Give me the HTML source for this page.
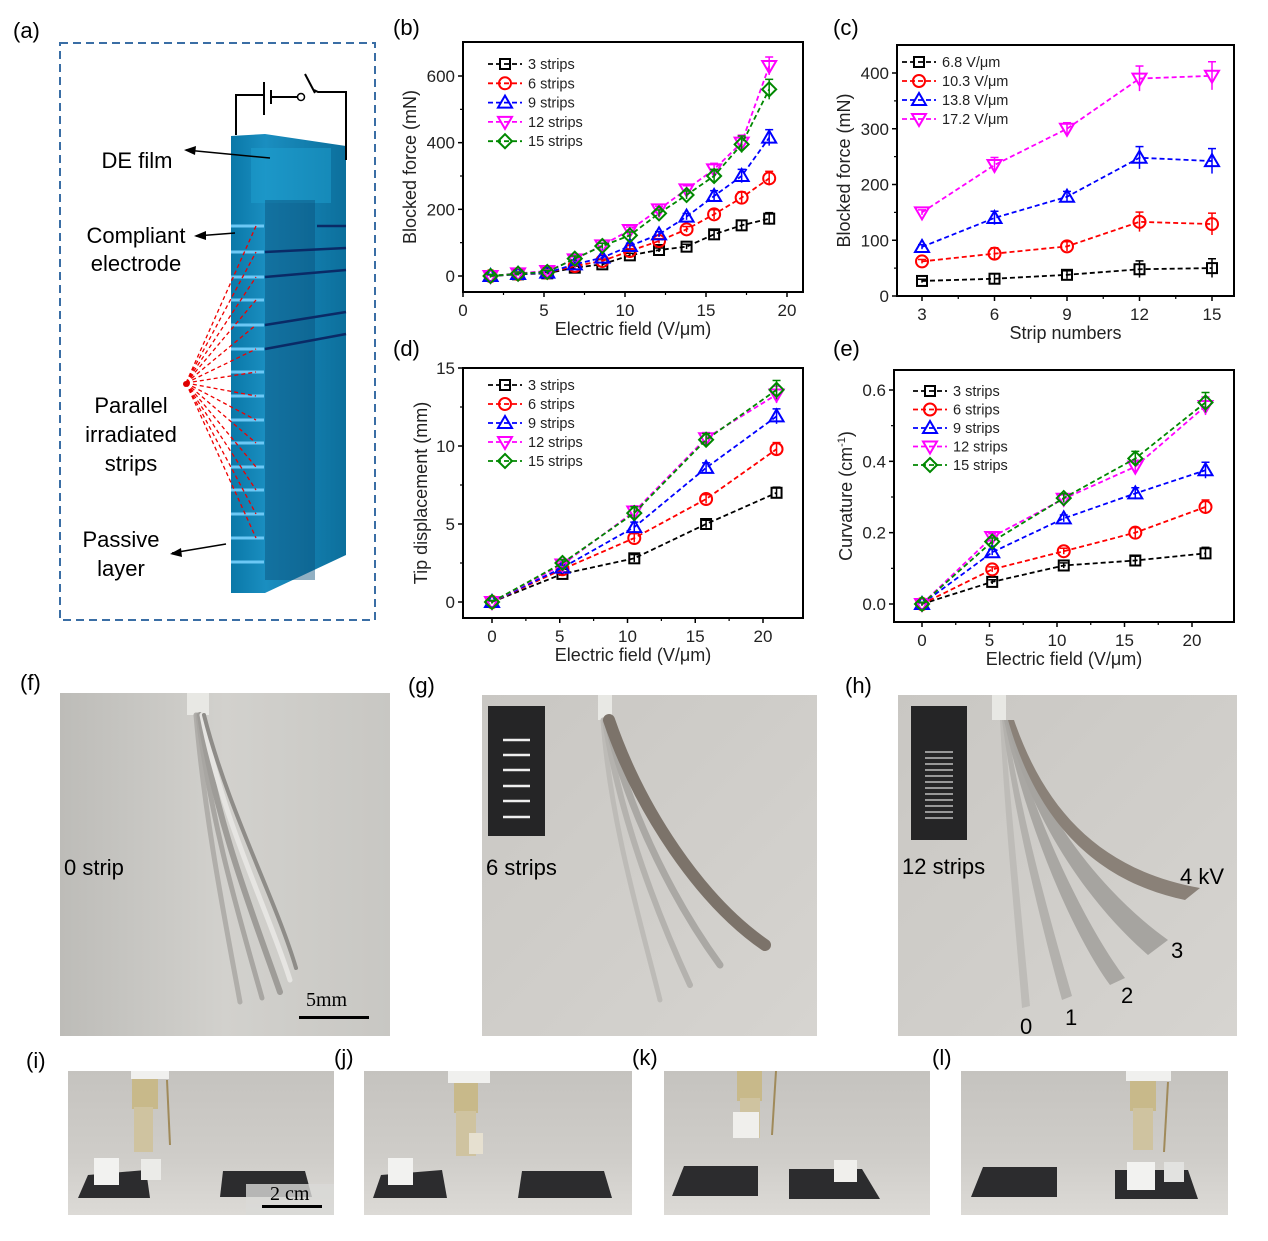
<!DOCTYPE html>
<html><head><meta charset="utf-8"><style>
html,body{margin:0;padding:0;background:#fff;}
svg{display:block;font-family:"Liberation Sans",Arial,sans-serif;}
</style></head><body>
<svg id="fig" width="1268" height="1241" viewBox="0 0 1268 1241" xmlns="http://www.w3.org/2000/svg">
<defs>
<linearGradient id="bg1" x1="0" y1="0" x2="1" y2="0"><stop offset="0" stop-color="#bdbcb8"/><stop offset="0.5" stop-color="#d2d1cd"/><stop offset="1" stop-color="#c8c7c3"/></linearGradient>
<linearGradient id="bg2" x1="0" y1="0" x2="1" y2="1"><stop offset="0" stop-color="#c9c7c3"/><stop offset="1" stop-color="#d6d4d0"/></linearGradient>
<linearGradient id="bgs" x1="0" y1="0" x2="0" y2="1"><stop offset="0" stop-color="#c5c3bf"/><stop offset="0.6" stop-color="#cfcdc9"/><stop offset="1" stop-color="#dcdad6"/></linearGradient>
<linearGradient id="blk" x1="0" y1="0" x2="1" y2="0"><stop offset="0" stop-color="#0a78a8"/><stop offset="0.3" stop-color="#1a8ec0"/><stop offset="1" stop-color="#0c6f9c"/></linearGradient>
</defs>

<g font-size="22" fill="#000">
<text x="13" y="38">(a)</text><text x="393" y="35">(b)</text><text x="833" y="35">(c)</text>
<text x="393" y="356">(d)</text><text x="833" y="356">(e)</text>
<text x="20" y="690">(f)</text><text x="408" y="693">(g)</text><text x="845" y="693">(h)</text>
<text x="26" y="1068">(i)</text><text x="334" y="1065">(j)</text><text x="632" y="1065">(k)</text><text x="932" y="1065">(l)</text>
</g>

<g>
<rect x="60" y="43" width="315" height="577" fill="none" stroke="#3a6ea5" stroke-width="2" stroke-dasharray="8,5"/>
<polygon points="231,136 265,134 346,146 346,555 265,593 231,593" fill="url(#blk)"/>
<rect x="251" y="148" width="80" height="55" fill="#1ea0d0" opacity="0.5"/>
<rect x="265" y="200" width="50" height="380" fill="#0b4f7a" opacity="0.45"/>
<g stroke="#6cc8f5" stroke-width="3">
<line x1="231" y1="226" x2="264" y2="226"/><line x1="231" y1="252" x2="264" y2="252"/><line x1="231" y1="277" x2="264" y2="277"/><line x1="231" y1="300" x2="264" y2="300"/><line x1="231" y1="325" x2="264" y2="325"/><line x1="231" y1="349" x2="264" y2="349"/><line x1="231" y1="372" x2="264" y2="372"/><line x1="231" y1="396" x2="264" y2="396"/><line x1="231" y1="420" x2="264" y2="420"/><line x1="231" y1="443" x2="264" y2="443"/><line x1="231" y1="467" x2="264" y2="467"/><line x1="231" y1="490" x2="264" y2="490"/><line x1="231" y1="514" x2="264" y2="514"/><line x1="231" y1="538" x2="264" y2="538"/><line x1="231" y1="562" x2="264" y2="562"/></g>
<g stroke="#0a2a66" stroke-width="2.5"><line x1="317" y1="226" x2="346" y2="226"/><line x1="265" y1="252" x2="346" y2="248"/><line x1="265" y1="277" x2="346" y2="270"/><line x1="265" y1="325" x2="346" y2="312"/><line x1="265" y1="349" x2="346" y2="334"/></g>
<g stroke="#e00" stroke-width="1.3" stroke-dasharray="4,3" fill="none">
<line x1="186" y1="383" x2="256" y2="226"/><line x1="186" y1="383" x2="256" y2="252"/><line x1="186" y1="383" x2="256" y2="277"/><line x1="186" y1="383" x2="256" y2="300"/><line x1="186" y1="383" x2="256" y2="325"/><line x1="186" y1="383" x2="256" y2="349"/><line x1="186" y1="383" x2="256" y2="372"/><line x1="186" y1="383" x2="256" y2="396"/><line x1="186" y1="383" x2="256" y2="420"/><line x1="186" y1="383" x2="256" y2="443"/><line x1="186" y1="383" x2="256" y2="467"/><line x1="186" y1="383" x2="256" y2="490"/><line x1="186" y1="383" x2="256" y2="514"/><line x1="186" y1="383" x2="256" y2="538"/></g>
<circle cx="186" cy="384" r="3" fill="#d00"/>
<g stroke="#000" stroke-width="2" fill="none"><polyline points="236,135 236,95 264,95"/><line x1="264" y1="82" x2="264" y2="115"/><line x1="271" y1="90" x2="271" y2="104"/><line x1="271" y1="97" x2="297" y2="97"/><polyline points="314,90 318,92 346,92 346,160"/><line x1="305" y1="74" x2="315" y2="93"/></g>
<circle cx="301" cy="97" r="3.5" fill="#fff" stroke="#000" stroke-width="1.5"/>
<g stroke="#000" stroke-width="1.5"><line x1="186" y1="150" x2="270" y2="158"/><line x1="196" y1="236" x2="235" y2="233"/><line x1="172" y1="553" x2="226" y2="544"/></g>
<polygon points="184,150 196,146 195,155" fill="#000"/><polygon points="194,236 206,231 206,240" fill="#000"/><polygon points="170,554 181,548 182,557" fill="#000"/>
<g font-size="22" fill="#000" text-anchor="middle">
<text x="137" y="168">DE film</text><text x="136" y="243">Compliant</text><text x="136" y="271">electrode</text>
<text x="131" y="413">Parallel</text><text x="131" y="442">irradiated</text><text x="131" y="471">strips</text>
<text x="121" y="547">Passive</text><text x="121" y="576">layer</text></g>
</g>

<g id="charts"></g>

<g>
<rect x="60" y="693" width="330" height="343" fill="url(#bg1)"/>
<rect x="187" y="693" width="22" height="22" fill="#e8e8e4"/>
<g fill="none" stroke-linecap="round">
<path d="M196,715 C205,820 225,920 240,1002" stroke="#b0aeaa" stroke-width="5"/>
<path d="M198,715 C210,820 240,920 262,998" stroke="#a8a6a2" stroke-width="5"/>
<path d="M200,715 C215,820 255,920 280,992" stroke="#9e9c98" stroke-width="6"/>
<path d="M202,715 C222,820 268,910 290,980" stroke="#e6e5e2" stroke-width="5"/>
<path d="M204,715 C228,810 276,900 296,968" stroke="#8e8c88" stroke-width="4"/></g>
<text x="64" y="875" font-size="22">0 strip</text>
<text x="306" y="1006" font-size="20" font-family="Liberation Serif,serif">5mm</text>
<rect x="299" y="1016" width="70" height="3" fill="#000"/>
</g>
<g>
<rect x="482" y="695" width="335" height="341" fill="url(#bg2)"/>
<rect x="488" y="706" width="57" height="130" fill="#252526"/>
<g stroke="#eee" stroke-width="2.5"><line x1="503" y1="740" x2="530" y2="740"/><line x1="503" y1="755" x2="530" y2="755"/><line x1="503" y1="770" x2="530" y2="770"/><line x1="503" y1="786" x2="530" y2="786"/><line x1="503" y1="801" x2="530" y2="801"/><line x1="503" y1="817" x2="530" y2="817"/></g>
<rect x="598" y="695" width="14" height="25" fill="#e8e8e4"/>
<g fill="none" stroke-linecap="round">
<path d="M603,720 C610,820 640,920 660,1000" stroke="#bdbbb7" stroke-width="5"/>
<path d="M605,720 C620,820 660,920 690,985" stroke="#b4b2ae" stroke-width="6"/>
<path d="M607,720 C630,820 680,910 720,965" stroke="#aaa8a4" stroke-width="7"/>
<path d="M609,720 C640,810 700,900 765,945" stroke="#7c736a" stroke-width="12"/></g>
<text x="486" y="875" font-size="22">6 strips</text>
</g>
<g>
<rect x="898" y="695" width="339" height="341" fill="url(#bg2)"/>
<rect x="911" y="706" width="56" height="134" fill="#252526"/>
<g stroke="#ddd" stroke-width="1.2"><line x1="925" y1="752" x2="953" y2="752"/><line x1="925" y1="758" x2="953" y2="758"/><line x1="925" y1="764" x2="953" y2="764"/><line x1="925" y1="770" x2="953" y2="770"/><line x1="925" y1="776" x2="953" y2="776"/><line x1="925" y1="782" x2="953" y2="782"/><line x1="925" y1="788" x2="953" y2="788"/><line x1="925" y1="794" x2="953" y2="794"/><line x1="925" y1="800" x2="953" y2="800"/><line x1="925" y1="806" x2="953" y2="806"/><line x1="925" y1="812" x2="953" y2="812"/><line x1="925" y1="818" x2="953" y2="818"/></g>
<rect x="992" y="695" width="14" height="25" fill="#e8e8e4"/>
<path d="M1000,720 C1005,820 1015,920 1022,1008 L1030,1006 C1022,920 1012,820 1004,720 Z" fill="#bebcb8"/>
<path d="M1002,720 C1015,820 1040,920 1062,1000 L1072,996 C1050,920 1022,820 1006,720 Z" fill="#b3b1ad"/>
<path d="M1004,720 C1025,820 1070,930 1110,985 L1125,978 C1085,925 1035,820 1008,720 Z" fill="#a9a7a3"/>
<path d="M1006,720 C1030,820 1090,905 1148,955 L1168,940 C1105,895 1040,815 1010,720 Z" fill="#a6a4a0"/>
<path d="M1008,720 C1035,815 1090,880 1185,900 L1200,888 C1100,870 1045,810 1014,720 Z" fill="#8a8178"/>
<text x="902" y="874" font-size="22">12 strips</text>
<g font-size="22"><text x="1180" y="884">4 kV</text><text x="1171" y="958">3</text><text x="1121" y="1003">2</text><text x="1065" y="1025">1</text><text x="1020" y="1034">0</text></g>
</g>

<g>
<rect x="68" y="1071" width="266" height="144" fill="url(#bgs)"/>
<rect x="131" y="1071" width="38" height="8" fill="#f0f0ee"/>
<rect x="132" y="1079" width="26" height="30" fill="#c8b98a"/><rect x="134" y="1107" width="19" height="45" fill="#cfc3a0"/>
<line x1="167" y1="1080" x2="170" y2="1145" stroke="#a08a5a" stroke-width="2"/>
<polygon points="88,1175 146,1170 150,1198 78,1198" fill="#2c2c2e"/><polygon points="223,1171 305,1171 312,1197 220,1197" fill="#2c2c2e"/>
<rect x="94" y="1158" width="25" height="27" fill="#f2f2f0"/><rect x="141" y="1159" width="20" height="21" fill="#ebebe8"/>
<rect x="246" y="1184" width="88" height="31" fill="#d9d9d7" opacity="0.8"/>
<text x="270" y="1200" font-size="20" font-family="Liberation Serif,serif">2 cm</text><rect x="262" y="1205" width="60" height="3" fill="#000"/>
</g>
<g>
<rect x="364" y="1071" width="268" height="144" fill="url(#bgs)"/>
<rect x="448" y="1071" width="42" height="12" fill="#f0f0ee"/>
<rect x="454" y="1083" width="24" height="30" fill="#c8b98a"/><rect x="456" y="1111" width="20" height="45" fill="#cfc3a0"/>
<rect x="469" y="1133" width="14" height="21" fill="#e6e0d0"/>
<polygon points="381,1175 442,1170 447,1198 373,1198" fill="#2c2c2e"/><polygon points="522,1171 604,1171 612,1198 518,1198" fill="#2c2c2e"/>
<rect x="388" y="1158" width="25" height="27" fill="#f2f2f0"/>
</g>
<g>
<rect x="664" y="1071" width="266" height="144" fill="url(#bgs)"/>
<rect x="737" y="1071" width="25" height="30" fill="#c8b98a"/><rect x="740" y="1098" width="20" height="40" fill="#cfc3a0"/>
<rect x="733" y="1112" width="26" height="26" fill="#f0efec"/>
<line x1="776" y1="1071" x2="772" y2="1135" stroke="#a08a5a" stroke-width="2"/>
<polygon points="684,1166 758,1166 758,1196 672,1196" fill="#2c2c2e"/><polygon points="789,1169 862,1169 880,1199 789,1199" fill="#2c2c2e"/>
<rect x="834" y="1160" width="23" height="22" fill="#f0efec"/>
</g>
<g>
<rect x="961" y="1071" width="267" height="144" fill="url(#bgs)"/>
<rect x="1126" y="1071" width="45" height="10" fill="#f0f0ee"/>
<rect x="1130" y="1081" width="26" height="30" fill="#c8b98a"/><rect x="1133" y="1108" width="20" height="42" fill="#cfc3a0"/>
<line x1="1168" y1="1082" x2="1164" y2="1152" stroke="#a08a5a" stroke-width="2"/>
<polygon points="983,1167 1057,1167 1057,1197 971,1197" fill="#2c2c2e"/><polygon points="1115,1170 1188,1170 1198,1199 1115,1199" fill="#2c2c2e"/>
<rect x="1127" y="1162" width="28" height="28" fill="#f2f2f0"/><rect x="1164" y="1162" width="20" height="20" fill="#e2e2e0"/>
</g>
</svg>
<script>
const bX = [1.7,3.4,5.2,6.9,8.6,10.3,12.1,13.8,15.5,17.2,18.9];
const b3 = [0,5,8,25,35,62,78,88,125,152,172];
const b6 = [0,6,10,30,45,75,105,140,185,235,293];
const b9 = [0,6,10,35,55,90,125,178,240,300,415];
const b12 = [0,8,15,50,92,138,200,260,320,400,630];
const b15 = [0,7,12,52,90,122,188,243,300,395,560];
const bErr = [5,5,5,8,8,10,10,12,20,25,30];
const bXTicks = [0,5,10,15,20];
const bYTicks = [0,200,400,600];
const cX = [3,6,9,12,15];
const c68 = [27,31,38,48,50];
const c103 = [62,76,89,133,129];
const c138 = [88,140,178,248,242];
const c172 = [150,235,300,390,395];
const cErr = [5,15,12,25,28];
const cXTicks = [3,6,9,12,15];
const cYTicks = [0,100,200,300,400];
const dX = [0,5.2,10.5,15.8,21];
const d3 = [0,1.8,2.8,5.0,7.0];
const d6 = [0,2.1,4.1,6.6,9.8];
const d9 = [0,2.2,4.8,8.6,11.9];
const d12 = [0,2.4,5.8,10.5,13.3];
const d15 = [0,2.5,5.7,10.4,13.6];
const dErr = [0.1,0.2,0.4,0.4,0.6];
const dXTicks = [0,5,10,15,20];
const dYTicks = [0,5,10,15];
const eX = [0,5.2,10.5,15.8,21];
const e3 = [0,0.062,0.108,0.122,0.142];
const e6 = [0,0.097,0.148,0.2,0.272];
const e9 = [0,0.145,0.24,0.31,0.375];
const e12 = [0,0.188,0.295,0.385,0.555];
const e15 = [0,0.175,0.297,0.408,0.565];
const eErr = [0.005,0.01,0.012,0.02,0.028];
const eXTicks = [0,5,10,15,20];
const eYTicks = [0,0.2,0.4,0.6];
const stripNames = ["3  strips","6  strips","9  strips","12 strips","15 strips"];
const fieldNames = ["6.8  V/μm","10.3 V/μm","13.8 V/μm","17.2 V/μm"];

const NS = "http://www.w3.org/2000/svg";
const COLORS = ["#000","#f00","#00f","#f0f","#080"];
const SHAPES = ["sq","ci","tu","td","di"];
function mk(tag, attrs, parent){const e=document.createElementNS(NS,tag);for(const k in attrs)e.setAttribute(k,attrs[k]);parent.appendChild(e);return e;}
function marker(g,shape,x,y,c){
  const s=6, st={fill:"none",stroke:c,"stroke-width":2};
  let m;
  if(shape==="sq") m=mk("rect",Object.assign({x:x-s+1,y:y-s+1,width:2*s-2,height:2*s-2},st),g);
  else if(shape==="ci") m=mk("circle",Object.assign({cx:x,cy:y,r:s},st),g);
  else if(shape==="tu") m=mk("polygon",Object.assign({points:`${x},${y-s-1} ${x+s+1},${y+s-1} ${x-s-1},${y+s-1}`},st),g);
  else if(shape==="td") m=mk("polygon",Object.assign({points:`${x},${y+s+1} ${x+s+1},${y-s+1} ${x-s-1},${y-s+1}`},st),g);
  else m=mk("polygon",Object.assign({points:`${x},${y-s-1} ${x+s+1},${y} ${x},${y+s+1} ${x-s-1},${y}`},st),g);
  
  
}
function chart(cfg){
  const root=document.getElementById("charts");
  const g=mk("g",{},root);
  
  
  const X=v=>cfg.xp0+(v-cfg.xv0)*(cfg.xp1-cfg.xp0)/(cfg.xv1-cfg.xv0);
  const Y=v=>cfg.yp0+(v-cfg.yv0)*(cfg.yp1-cfg.yp0)/(cfg.yv1-cfg.yv0);
  const frame=mk("rect",{x:cfg.bx0,y:cfg.by0,width:cfg.bx1-cfg.bx0,height:cfg.by1-cfg.by0,fill:"none",stroke:"#000","stroke-width":2},g);
  
  
  cfg.xt.forEach((v,i)=>{
    const px=X(v);
    mk("line",{x1:px,y1:cfg.by1,x2:px,y2:cfg.by1+5,stroke:"#000","stroke-width":1.5},g);
    const t=mk("text",{x:px,y:cfg.by1+24,"font-size":17,"text-anchor":"middle",fill:"#222"},g);
    t.textContent=v;
    
    
    if(i<cfg.xt.length-1){const m=X((v+cfg.xt[i+1])/2);mk("line",{x1:m,y1:cfg.by1,x2:m,y2:cfg.by1+3,stroke:"#000","stroke-width":1.2},g);}
  });
  cfg.yt.forEach((v,i)=>{
    const py=Y(v);
    mk("line",{x1:cfg.bx0-5,y1:py,x2:cfg.bx0,y2:py,stroke:"#000","stroke-width":1.5},g);
    const t=mk("text",{x:cfg.bx0-8,y:py+6,"font-size":17,"text-anchor":"end",fill:"#222"},g);
    t.textContent=cfg.yfmt?cfg.yfmt(v):v;
    
    
    if(i<cfg.yt.length-1){const m=Y((v+cfg.yt[i+1])/2);mk("line",{x1:cfg.bx0-3,y1:m,x2:cfg.bx0,y2:m,stroke:"#000","stroke-width":1.2},g);}
  });
  const xl=mk("text",{x:(cfg.bx0+cfg.bx1)/2,y:cfg.by1+43,"font-size":18,"text-anchor":"middle",fill:"#222"},g);
  xl.textContent=cfg.xlabel;
  
  
  const yl=mk("text",{x:0,y:0,"font-size":18,"text-anchor":"middle",fill:"#222",transform:`translate(${cfg.ylx},${(cfg.by0+cfg.by1)/2}) rotate(-90)`},g);
  if(cfg.ysup){yl.textContent=cfg.ylabel;const ts=mk("tspan",{dy:-7,"font-size":11},yl);ts.textContent="-1";const t2=mk("tspan",{dy:7},yl);t2.textContent=")";}
  else yl.textContent=cfg.ylabel;
  
  
  cfg.series.forEach((ys,si)=>{
    const c=cfg.colors[si], sh=cfg.shapes[si];
    const pts=ys.map((v,i)=>`${X(cfg.x[i])},${Y(v)}`).join(" ");
    const pl=mk("polyline",{points:pts,fill:"none",stroke:c,"stroke-width":1.8,"stroke-dasharray":"5,3"},g);
    
    
    ys.forEach((v,i)=>{
      const px=X(cfg.x[i]);
      const e=cfg.err[i]*(0.6+0.1*si);
      mk("line",{x1:px,y1:Y(v+e),x2:px,y2:Y(v-e),stroke:c,"stroke-width":1.5},g);
      mk("line",{x1:px-4,y1:Y(v+e),x2:px+4,y2:Y(v+e),stroke:c,"stroke-width":1.5},g);
      marker(g,sh,px,Y(v),c);
    });
    const ly=cfg.ly0+si*cfg.ldy;
    mk("line",{x1:cfg.lx,y1:ly,x2:cfg.lx+34,y2:ly,stroke:c,"stroke-width":1.8,"stroke-dasharray":"5,3"},g);
    marker(g,sh,cfg.lx+17,ly,c);
    const lt=mk("text",{x:cfg.lx+40,y:ly+5,"font-size":14.5,fill:"#222"},g);
    lt.textContent=cfg.names[si];
    
    
  });
}
chart({name:"chart-b-blocked-force",bx0:463,bx1:803,by0:42,by1:292,xp0:463,xv0:0,xp1:787,xv1:20,yp0:276,yv0:0,yp1:76,yv1:600,
 xt:bXTicks,yt:bYTicks,x:bX,series:[b3,b6,b9,b12,b15],err:bErr,colors:COLORS,shapes:SHAPES,names:stripNames,
 xlabel:"Electric field (V/μm)",ylabel:"Blocked force (mN)",ylx:416,lx:488,ly0:64,ldy:19.3});
chart({name:"chart-c-blocked-force-vs-strips",bx0:897,bx1:1234,by0:45,by1:296,xp0:922,xv0:3,xp1:1212,xv1:15,yp0:296,yv0:0,yp1:73,yv1:400,
 xt:cXTicks,yt:cYTicks,x:cX,series:[c68,c103,c138,c172],err:cErr,colors:["#000","#f00","#00f","#f0f"],shapes:["sq","ci","tu","td"],names:fieldNames,
 xlabel:"Strip numbers",ylabel:"Blocked force (mN)",ylx:850,lx:902,ly0:62,ldy:19});
chart({name:"chart-d-tip-displacement",bx0:463,bx1:803,by0:368,by1:618,xp0:492,xv0:0,xp1:763,xv1:20,yp0:602,yv0:0,yp1:368,yv1:15,
 xt:dXTicks,yt:dYTicks,x:dX,series:[d3,d6,d9,d12,d15],err:dErr,colors:COLORS,shapes:SHAPES,names:stripNames,
 xlabel:"Electric field (V/μm)",ylabel:"Tip displacement (mm)",ylx:427,lx:488,ly0:385,ldy:19});
chart({name:"chart-e-curvature",bx0:894,bx1:1234,by0:370,by1:622,xp0:922,xv0:0,xp1:1192,xv1:20,yp0:604,yv0:0,yp1:390,yv1:0.6,
 xt:eXTicks,yt:eYTicks,x:eX,series:[e3,e6,e9,e12,e15],err:eErr,colors:COLORS,shapes:SHAPES,names:stripNames,yfmt:v=>v.toFixed(1),
 xlabel:"Electric field (V/μm)",ylabel:"Curvature (cm",ysup:true,ylx:852,lx:913,ly0:391,ldy:18.5});
</script>
</body></html>
